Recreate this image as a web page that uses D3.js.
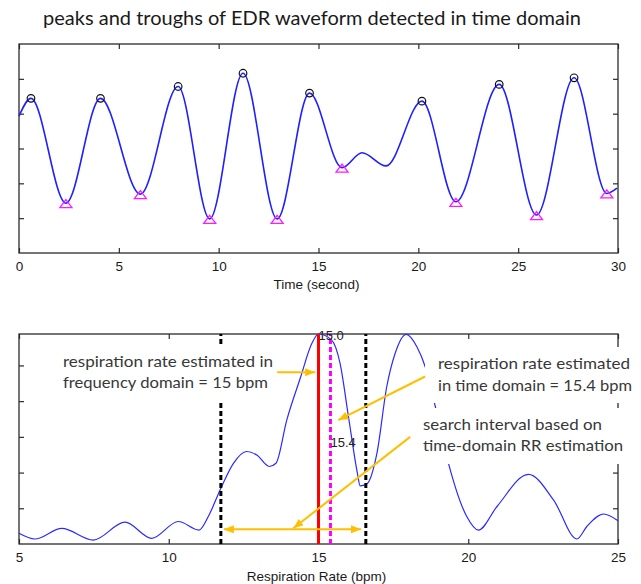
<!DOCTYPE html>
<html>
<head>
<meta charset="utf-8">
<script src="https://cdn.jsdelivr.net/npm/d3@7"></script>
<style>
  body { margin: 0; background: #fff; }
  text { font-family: "Liberation Sans", Arial, sans-serif; }
  .note { font-family: Lato, "Open Sans", sans-serif; font-size: 16px; fill: #383838; }
</style>
</head>
<body>
<svg id="chart" width="641" height="584"></svg>
<script>
// EDR waveform, time domain (extrema)
var timeSec  = [0, 0.6, 2.35, 4.08, 6.08, 7.97, 9.55, 11.22, 12.93, 14.55, 16.18, 17.18, 18.38, 20.18, 21.88, 24.05, 25.92, 27.8, 29.44, 29.95];
var edrValue = [0.93, 1.44, -1.57, 1.44, -1.31, 1.78, -2.02, 2.16, -2.02, 1.59, -0.55, -0.12, -0.5, 1.36, -1.53, 1.84, -1.91, 2.03, -1.29, -1.14];
var peakTime    = [0.6, 4.08, 7.97, 11.22, 14.55, 20.18, 24.05, 27.8];
var peakValue   = [1.44, 1.44, 1.78, 2.16, 1.59, 1.36, 1.84, 2.03];
var troughTime  = [2.35, 6.08, 9.55, 12.93, 16.18, 21.88, 25.92, 29.44];
var troughValue = [-1.57, -1.31, -2.02, -2.02, -0.55, -1.53, -1.91, -1.29];
var timeTicks = [0, 5, 10, 15, 20, 25, 30];
var edrTicks  = [-2, -1, 0, 1, 2];

// spectrum vs respiration rate
var rateBpm  = [5.0, 5.53, 6.43, 7.48, 8.54, 9.43, 10.32, 11.01, 11.32, 11.74, 12.16, 12.6, 12.94, 13.36, 13.58, 13.94, 14.39, 14.78, 15.0, 15.44, 15.72, 16.0, 16.3, 16.39, 16.61, 16.95, 17.28, 17.56, 17.93, 18.28, 18.56, 18.9, 19.34, 19.95, 20.34, 20.96, 22.01, 22.85, 23.63, 23.96, 24.52, 25.0];
var spectrum = [0.30, 0.14, 0.44, 0.11, 0.61, 0.16, 0.63, 0.39, 0.77, 1.56, 2.26, 2.59, 2.49, 2.17, 2.26, 3.47, 4.64, 5.62, 5.88, 5.71, 5.06, 3.57, 1.98, 1.63, 1.68, 2.54, 4.41, 5.34, 5.87, 5.53, 4.97, 3.85, 2.26, 0.77, 0.39, 1.05, 1.95, 1.23, 0.14, 0.49, 0.84, 0.65];
var rateTicks = [5, 10, 15, 20, 25];
var specTicks = [1, 2, 3, 4, 5];
var searchInterval = [11.74, 16.58];
var rrFreq = 15.0;
var rrTime = 15.4;

var svg = d3.select("#chart");

var defs = svg.append("defs");
defs.append("marker")
    .attr("id", "head")
    .attr("viewBox", "0 0 10 8")
    .attr("refX", 10)
    .attr("refY", 4)
    .attr("markerWidth", 10)
    .attr("markerHeight", 8)
    .attr("markerUnits", "userSpaceOnUse")
    .attr("orient", "auto-start-reverse")
    .append("path")
    .attr("d", "M0,0L10,4L0,8Z")
    .style("fill", "#ffbf00");

svg.append("text")
    .attr("x", 312)
    .attr("y", 25)
    .attr("text-anchor", "middle")
    .style("font-family", "Lato, 'Open Sans', sans-serif")
    .style("font-size", "20px")
    .style("fill", "#1a1a1a")
    .text("peaks and troughs of EDR waveform detected in time domain");

function drawFrame(x, y, xTicks, yTicks, xTitle, titleY){
    var x0 = x.range()[0], x1 = x.range()[1];
    var y0 = y.range()[1], y1 = y.range()[0];
    var g = svg.append("g");

    g.append("g")
        .attr("transform", "translate(0," + y1 + ")")
        .call(d3.axisBottom(x).tickValues(xTicks).tickSize(-5).tickPadding(8))
        .call(styleAxis);
    g.append("g")
        .attr("transform", "translate(0," + y0 + ")")
        .call(d3.axisTop(x).tickValues(xTicks).tickSize(-5).tickFormat(""))
        .call(styleAxis);
    g.append("g")
        .attr("transform", "translate(" + x0 + ",0)")
        .call(d3.axisLeft(y).tickValues(yTicks).tickSize(-5).tickFormat(""))
        .call(styleAxis);
    g.append("g")
        .attr("transform", "translate(" + x1 + ",0)")
        .call(d3.axisRight(y).tickValues(yTicks).tickSize(-5).tickFormat(""))
        .call(styleAxis);

    g.append("rect")
        .attr("x", x0).attr("y", y0)
        .attr("width", x1 - x0).attr("height", y1 - y0)
        .style("fill", "none")
        .style("stroke", "#2b2b2b")
        .style("stroke-width", 1.3);

    g.append("text")
        .attr("x", (x0 + x1) / 2 - 2)
        .attr("y", titleY)
        .attr("text-anchor", "middle")
        .style("font-size", "13.5px")
        .style("fill", "#1a1a1a")
        .text(xTitle);
    return g;
}

function styleAxis(a){
    a.select(".domain").remove();
    a.selectAll(".tick line").style("stroke", "#2b2b2b").style("stroke-width", 1.2);
    a.selectAll(".tick text")
        .style("font-size", "13.5px")
        .style("font-family", "'Liberation Sans', Arial, sans-serif")
        .style("fill", "#1a1a1a");
}

// ---------- top panel ----------
var xTime = d3.scaleLinear().domain([0, 30]).range([19, 618]);
var yEdr  = d3.scaleLinear().domain([-3, 3]).range([253, 44]);

drawFrame(xTime, yEdr, timeTicks, edrTicks, "Time (second)", 289);

var wave = timeSec.map(function(t, i){ return [t, edrValue[i]]; });
svg.append("path")
    .datum(wave)
    .attr("d", d3.line()
        .x(function(d){ return xTime(d[0]); })
        .y(function(d){ return yEdr(d[1]); })
        .curve(d3.curveMonotoneX))
    .style("fill", "none")
    .style("stroke", "#1f1fff")
    .style("stroke-width", 1.6);

svg.selectAll(".peak")
    .data(peakTime)
    .enter().append("circle")
    .attr("class", "peak")
    .attr("cx", function(d){ return xTime(d); })
    .attr("cy", function(d, i){ return yEdr(peakValue[i]); })
    .attr("r", 3.8)
    .style("fill", "none")
    .style("stroke", "#111")
    .style("stroke-width", 1.2);

svg.selectAll(".trough")
    .data(troughTime)
    .enter().append("path")
    .attr("class", "trough")
    .attr("transform", function(d, i){
        return "translate(" + xTime(d) + "," + (yEdr(troughValue[i]) + 1) + ")";
    })
    .attr("d", "M0,-4.5L6,3.5L-6,3.5Z")
    .style("fill", "none")
    .style("stroke", "#ff1aff")
    .style("stroke-width", 1.3);

// ---------- bottom panel ----------
var xRate = d3.scaleLinear().domain([5, 25]).range([19, 618]);
var ySpec = d3.scaleLinear().domain([0, 5.88]).range([544, 334]);

drawFrame(xRate, ySpec, rateTicks, specTicks, "Respiration Rate (bpm)", 581);

var spec = rateBpm.map(function(r, i){ return [r, spectrum[i]]; });
svg.append("path")
    .datum(spec)
    .attr("d", d3.line()
        .x(function(d){ return xRate(d[0]); })
        .y(function(d){ return ySpec(d[1]); })
        .curve(d3.curveMonotoneX))
    .style("fill", "none")
    .style("stroke", "#2a2aff")
    .style("stroke-width", 1.2);

var vLines = [
    { v: searchInterval[0], color: "#000", dash: "5,3" },
    { v: searchInterval[1], color: "#000", dash: "5,3" },
    { v: rrFreq, color: "#ff0000", dash: null },
    { v: rrTime, color: "#ff00ff", dash: "5,3" }
];
svg.selectAll(".vline")
    .data(vLines)
    .enter().append("line")
    .attr("class", "vline")
    .attr("x1", function(d){ return xRate(d.v); })
    .attr("x2", function(d){ return xRate(d.v); })
    .attr("y1", ySpec(0))
    .attr("y2", ySpec(5.88))
    .style("stroke", function(d){ return d.color; })
    .style("stroke-width", 3)
    .style("stroke-dasharray", function(d){ return d.dash; });

// white label boxes over the plot
var notes = [
    { box: [55, 345, 222, 55], x: 63, lines: [["respiration rate estimated in", 367, 210], ["frequency domain = 15 bpm", 388, 205]] },
    { box: [425, 347, 216, 56], x: 438, lines: [["respiration rate estimated", 369, 192], ["in time domain = 15.4 bpm", 391, 194]] },
    { box: [416, 408, 212, 56], x: 423, lines: [["search interval based on", 430, 179], ["time-domain RR estimation", 451, 200]] }
];
notes.forEach(function(n){
    svg.append("rect")
        .attr("x", n.box[0]).attr("y", n.box[1])
        .attr("width", n.box[2]).attr("height", n.box[3])
        .style("fill", "#fff");
    n.lines.forEach(function(l){
        svg.append("text")
            .attr("class", "note")
            .attr("x", n.x)
            .attr("y", l[1])
            .attr("textLength", l[2])
            .attr("lengthAdjust", "spacingAndGlyphs")
            .text(l[0]);
    });
});

// arrows (data units)
var arrows = [
    { from: [13.62, 4.81], to: [14.89, 4.81], both: false },
    { from: [18.56, 4.69], to: [15.66, 3.47], both: false },
    { from: [18.06, 3.00], to: [14.16, 0.44], both: false },
    { from: [11.84, 0.41], to: [16.42, 0.41], both: true }
];
svg.selectAll(".arrow")
    .data(arrows)
    .enter().append("line")
    .attr("class", "arrow")
    .attr("x1", function(d){ return xRate(d.from[0]); })
    .attr("y1", function(d){ return ySpec(d.from[1]); })
    .attr("x2", function(d){ return xRate(d.to[0]); })
    .attr("y2", function(d){ return ySpec(d.to[1]); })
    .attr("marker-end", "url(#head)")
    .attr("marker-start", function(d){ return d.both ? "url(#head)" : null; })
    .style("stroke", "#ffbf00")
    .style("stroke-width", 2);

// value labels
svg.append("text")
    .attr("x", xRate(rrFreq))
    .attr("y", ySpec(5.88) + 6)
    .style("font-size", "13px")
    .style("fill", "#222")
    .text(rrFreq.toFixed(1));
svg.append("text")
    .attr("x", xRate(rrTime))
    .attr("y", ySpec(2.72))
    .style("font-size", "13px")
    .style("fill", "#222")
    .text(rrTime.toFixed(1));
</script>
</body>
</html>
